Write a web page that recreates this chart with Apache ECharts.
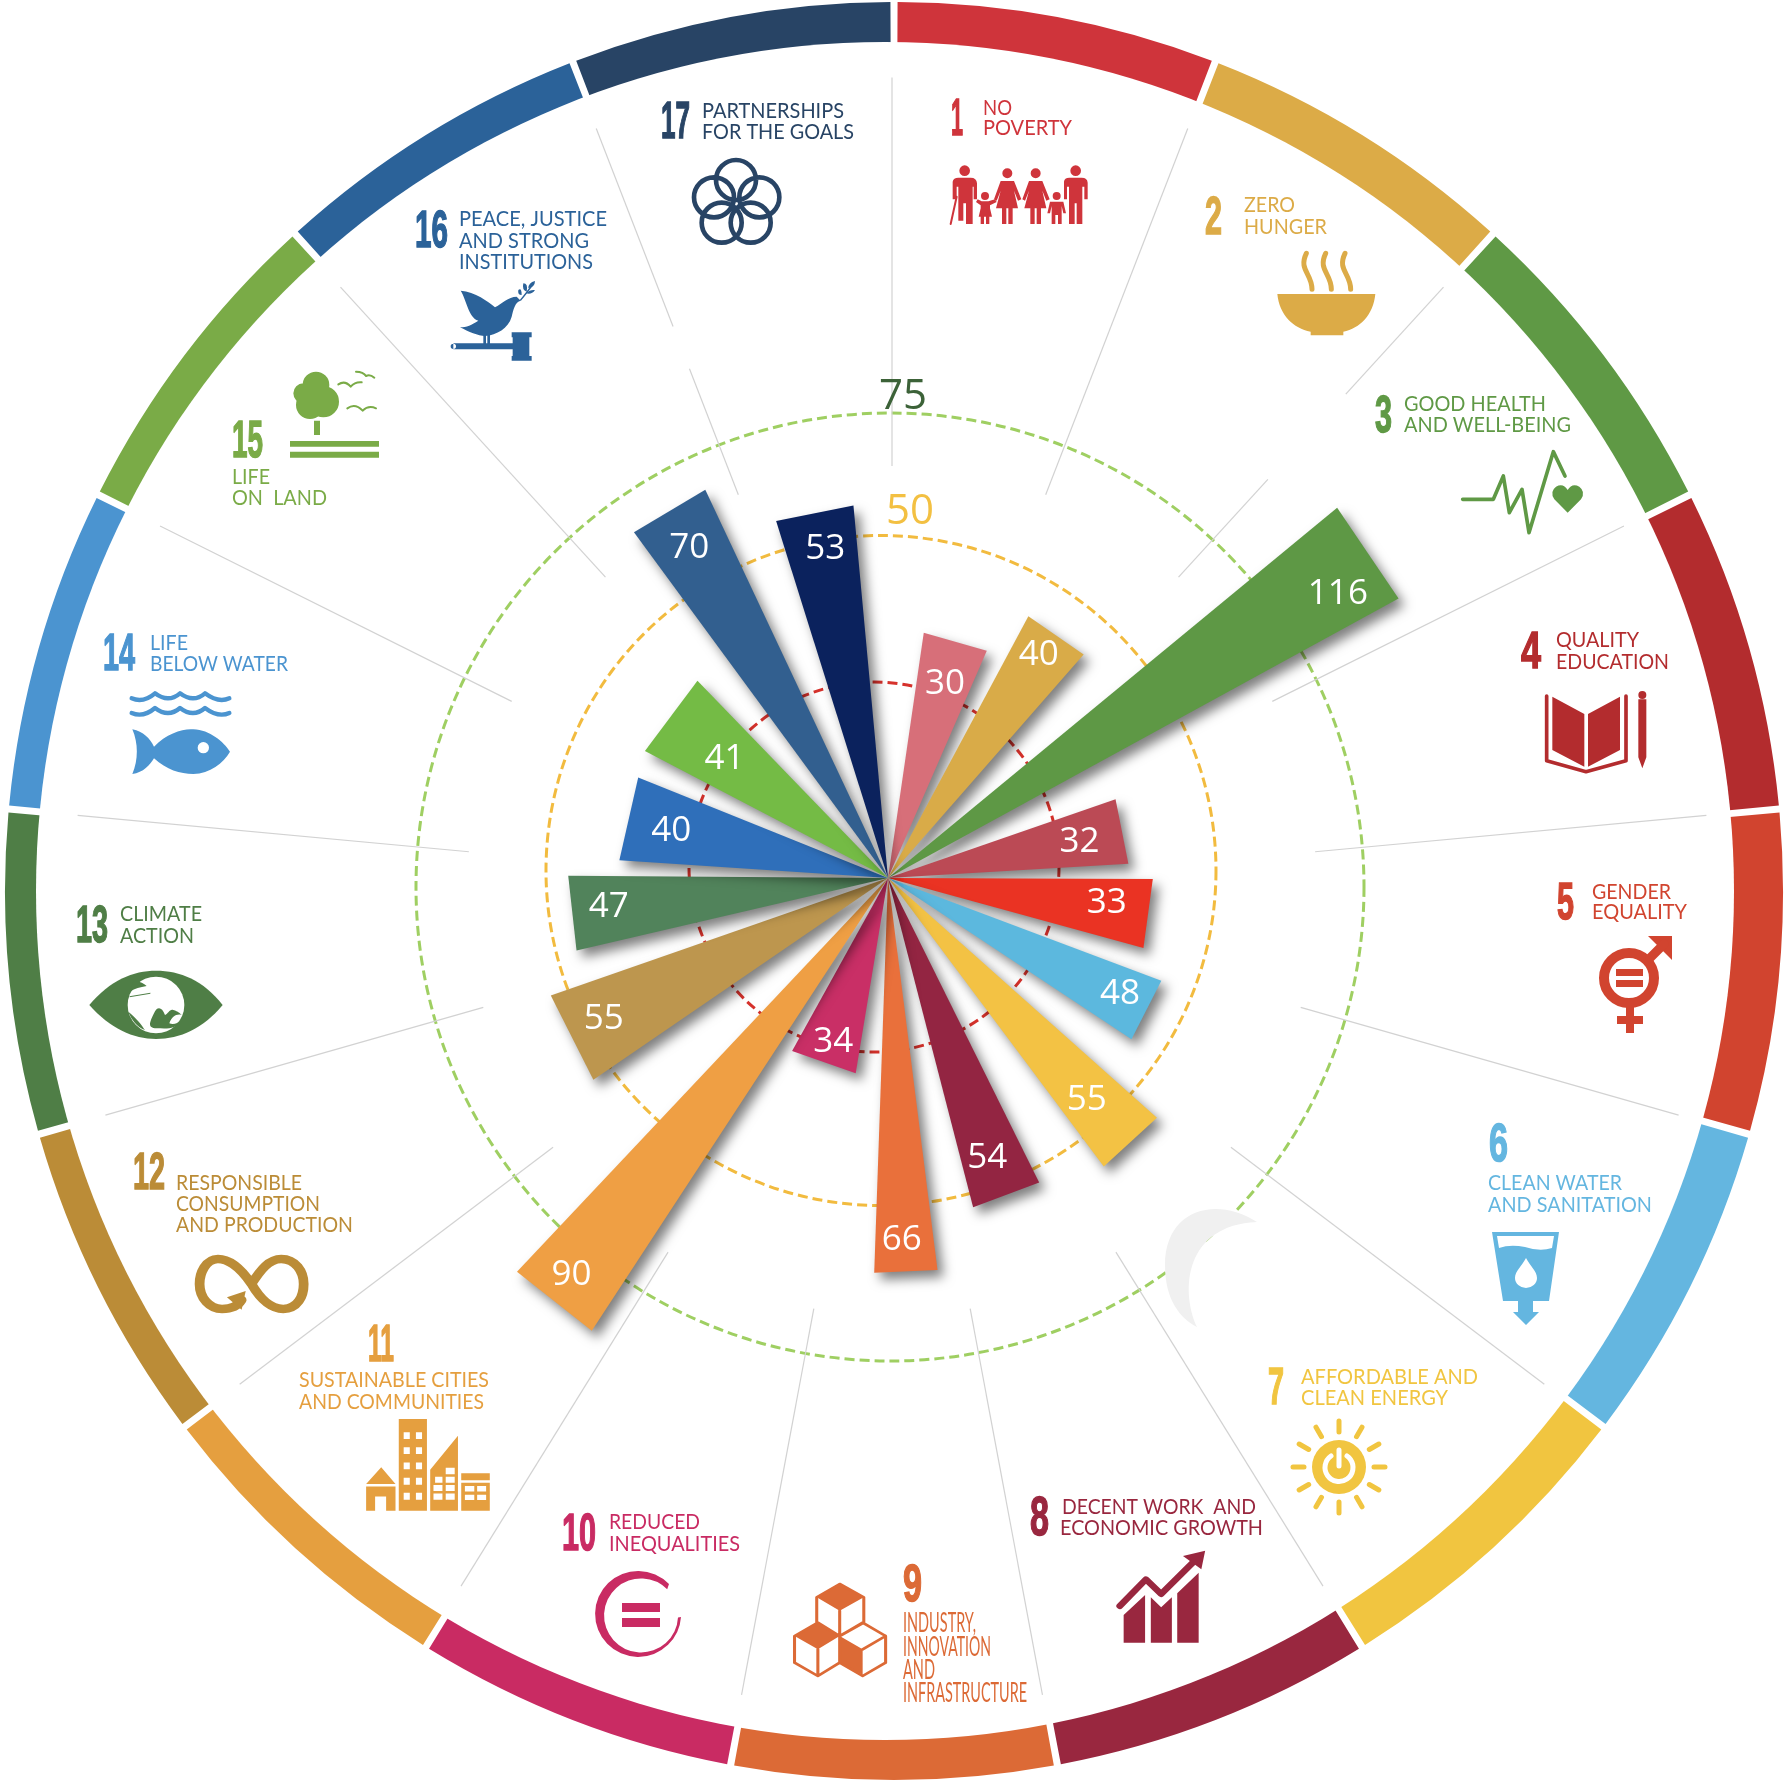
<!DOCTYPE html>
<html>
<head>
<meta charset="utf-8">
<title>SDG wheel</title>
<script src="https://cdn.jsdelivr.net/npm/echarts@6/dist/echarts.min.js"></script>
<style>
  html, body { margin: 0; padding: 0; background: #fff; }
  #chart { width: 1790px; height: 1787px; }
</style>
</head>
<body>
<div id="chart"></div>
<script>
// values printed on the wedges, goal 1 to 17
var printedValues = [30, 40, 116, 32, 33, 48, 55, 54, 66, 34, 90, 55, 47, 40, 41, 70, 53];
// how far each wedge really reaches in the picture (axis units, rings are not to scale)
var wedgeReach = [39.2, 47, 92.1, 38.1, 41.9, 46.2, 57, 53.8, 62.5, 31.3, 85.6, 56.5, 50.6, 42.6, 43.4, 67.9, 59.2];
// angular span of each wedge, degrees clockwise from the top
var wedgeFrom = [8.3, 28.2, 50.5, 70.9, 90.2, 110.6, 131.7, 153.6, 172.8, 189.4, 213.2, 235.6, 256.9, 273.8, 297.6, 323.7, 342.6];
var wedgeTo = [23.5, 41.2, 61.3, 86.6, 105.3, 123.5, 143.2, 165.5, 182, 209, 223.3, 250.8, 270.4, 291.9, 316, 334.8, 354.7];
// where the printed value sits on each wedge
var labelReach = [32.5, 43, 84.4, 30.9, 34.8, 40.8, 46.8, 46.6, 56.9, 26.9, 79.9, 50, 44.4, 35.2, 32.3, 61.4, 53.5];
var labelAngle = [16.1, 33.7, 57.5, 78.6, 95.7, 115.9, 137.8, 160.3, 177.8, 198.8, 218.8, 244.1, 264.6, 283, 306.8, 329.2, 349.3];
var ringValues = [25, 50, 75];
var ringLabels = ['50', '75'];
// spokes between the goals: angle and radial run in percent of the wheel
var spokeAngle = [0, 21.2, 42.4, 42.4, 63.5, 84.7, 105.9, 127.1, 148.2, 169.4, 190.6, 211.8, 232.9, 254.1, 275.3, 296.5, 317.6, 338.8, 338.8];
var spokeFrom = [47.8, 47.8, 47.8, 75.7, 47.8, 47.8, 47.8, 47.8, 47.8, 47.8, 47.8, 47.8, 47.8, 47.8, 47.8, 47.8, 47.8, 47.8, 68.1];
var spokeTo = [91.5, 92, 62.7, 92, 92, 92, 92, 92, 92, 92, 92, 92, 92, 92, 92, 92, 92, 63, 92];

var ringColors = ['#cf343b', '#dcab47', '#5f9945', '#b32c2e', '#d1442f', '#64b6e0', '#f1c540', '#99273f', '#dc6a36',
  '#c92b63', '#e59f3f', '#bb8c37', '#4f7e46', '#4b94d0', '#7aab47', '#2b6299', '#284465'];
var wedgeColors = ['#d76f79', '#d9ab48', '#5e9845', '#bb4a55', '#ea3323', '#5cb8de', '#f3c244', '#932542', '#e9703b',
  '#c92f66', '#ef9f44', '#bd964e', '#51835b', '#2f6fba', '#74bb45', '#325f8f', '#0b225d'];

// goal captions: number box [text, left, right, top, bottom], lines [text, left, right, middle]
var captions = [
  { num: ['1', 951, 963, 100, 136], cap: 16, lines: [['NO', 983, 1012, 108], ['POVERTY', 983, 1072, 128]] },
  { num: ['2', 1205, 1222, 197, 235], cap: 16, lines: [['ZERO', 1244, 1295, 205], ['HUNGER', 1244, 1327, 227]] },
  { num: ['3', 1375, 1392, 397, 433], cap: 16, lines: [['GOOD HEALTH', 1404, 1546, 404], ['AND WELL-BEING', 1404, 1571, 425]] },
  { num: ['4', 1521, 1541, 632, 669], cap: 16, lines: [['QUALITY', 1556, 1639, 640], ['EDUCATION', 1556, 1669, 662]] },
  { num: ['5', 1557, 1574, 883, 920], cap: 16, lines: [['GENDER', 1592, 1671, 892], ['EQUALITY', 1592, 1687, 912]] },
  { num: ['6', 1489, 1508, 1124, 1162], cap: 16, lines: [['CLEAN WATER', 1488, 1622, 1183], ['AND SANITATION', 1488, 1652, 1205]] },
  { num: ['7', 1268, 1284, 1369, 1405], cap: 16, lines: [['AFFORDABLE AND', 1301, 1478, 1377], ['CLEAN ENERGY', 1301, 1448, 1398]] },
  { num: ['8', 1030, 1049, 1497, 1536], cap: 16, lines: [['DECENT WORK  AND', 1062, 1256, 1507], ['ECONOMIC GROWTH', 1060, 1263, 1528]] },
  { num: ['9', 903, 922, 1565, 1602], cap: 19, lines: [['INDUSTRY,', 903, 976, 1624], ['INNOVATION', 903, 991, 1648], ['AND', 903, 935, 1671], ['INFRASTRUCTURE', 903, 1027, 1694]] },
  { num: ['10', 562, 596, 1514, 1551], cap: 16, lines: [['REDUCED', 609, 700, 1522], ['INEQUALITIES', 609, 740, 1544]] },
  { num: ['11', 368, 394, 1325, 1362], cap: 16, lines: [['SUSTAINABLE CITIES', 299, 489, 1380], ['AND COMMUNITIES', 299, 484, 1402]] },
  { num: ['12', 133, 165, 1154, 1190], cap: 16, lines: [['RESPONSIBLE', 176, 302, 1183], ['CONSUMPTION', 176, 320, 1204], ['AND PRODUCTION', 176, 353, 1225]] },
  { num: ['13', 76, 108, 906, 943], cap: 16, lines: [['CLIMATE', 120, 202, 914], ['ACTION', 120, 194, 936]] },
  { num: ['14', 103, 135, 634, 671], cap: 16, lines: [['LIFE', 150, 188, 643], ['BELOW WATER', 150, 288, 664]] },
  { num: ['15', 232, 263, 421, 458], cap: 16, lines: [['LIFE', 232, 270, 477], ['ON  LAND', 232, 327, 498]] },
  { num: ['16', 415, 448, 211, 248], cap: 16, lines: [['PEACE, JUSTICE', 459, 607, 219], ['AND STRONG', 459, 589, 241], ['INSTITUTIONS', 459, 593, 262]] },
  { num: ['17', 661, 690, 103, 139], cap: 16, lines: [['PARTNERSHIPS', 702, 844, 111], ['FOR THE GOALS', 702, 854, 132]] }
];

function circ(cx, cy, r) {
  return 'M' + (cx - r) + ' ' + cy + 'a' + r + ' ' + r + ' 0 1 0 ' + (2 * r) + ' 0a' + r + ' ' + r + ' 0 1 0 ' + (-2 * r) + ' 0Z';
}
function box(x0, y0, x1, y1) {
  return 'M' + x0 + ' ' + y0 + 'H' + x1 + 'V' + y1 + 'H' + x0 + 'Z';
}
function woman(dx) {
  return circ(382 + dx, 520, 15) + 'M' + (362 + dx) + ' 543h40l22 55-10 4-12-30 12 53h-16v47h-13v-47h-6v47h-13v-47h-18l14-53-12 30-8-4Z';
}
function sunRays() {
  var d = '';
  for (var k = 0; k < 12; k++) {
    var a = k * Math.PI / 6;
    d += 'M' + (1339 + 35 * Math.sin(a)) + ' ' + (1467 - 35 * Math.cos(a)) + 'L' + (1339 + 46 * Math.sin(a)) + ' ' + (1467 - 46 * Math.cos(a));
  }
  return d;
}
function towerWindows() {
  var d = '';
  [790, 832, 875, 918, 960].forEach(function (y) { d += box(695, y, 710, y + 19) + box(725, y, 740, y + 19); });
  [938, 962].forEach(function (y) { d += box(768, y, 790, y + 17) + box(798, y, 820, y + 17) + box(845, y + 3, 868, y + 18) + box(875, y + 3, 897, y + 18); });
  d += box(798, 890, 820, 908) + box(798, 915, 820, 932) + box(772, 915, 790, 932);
  return d;
}

// icons, roughly redrawn; o = origin, s = [sx, sy], parts: d path, w stroke width, white = knock out
var icons = [
  { o: [880, 0], s: [1 / 3, 1 / 3], parts: [
    { d: circ(254, 512, 16) + 'M218 545Q220 533 235 533H272Q290 533 291 550V598H281V560H278V672H258V610H250V662H235V560H230V598H218Z' },
    { d: 'M230 590L212 672', w: 6 },
    { d: circ(315, 588, 12) + 'M293 598L305 604H325L345 598L350 606L330 616V625L336 650H328V672H318V650H312V672H302V650H296L302 625V616L288 606Z' },
    { d: woman(0) + woman(85) },
    { d: circ(530, 588, 12) + 'M510 605H550L558 640H550L545 618V672H534V645H526V672H515V618L510 640H502Z' },
    { d: circ(587, 512, 16) + 'M552 545Q553 533 568 533H605Q622 533 623 548V598H613V560H607V672H590V610H584V672H567V560H561V598H552Z' }
  ] },
  { o: [880, 0], s: [1 / 3, 1 / 3], parts: [
    { d: 'M1192 882H1486C1480 945 1440 985 1390 995V1006H1292V995C1240 985 1198 945 1192 882Z' },
    { d: 'M1296 868C1296 820 1255 810 1279 760M1354 868C1354 820 1313 810 1337 760M1412 868C1412 820 1371 810 1395 760', w: 15 }
  ] },
  { o: [1350, 380], s: [1 / 3, 1 / 3], parts: [
    { d: 'M338 358H430L460 288L478 398L516 328L537 458L610 215L645 288', w: 11 },
    { d: 'M653 398L613 358Q598 335 618 320Q640 308 653 330Q666 308 688 320Q708 335 693 358Z' }
  ] },
  { o: [1350, 380], s: [1 / 3, 1 / 3], parts: [
    { d: 'M607 950L703 1002V1160L607 1110ZM714 1002L810 950V1110L714 1160Z' },
    { d: 'M590 948V1142L708 1175L828 1142V948', w: 11 },
    { d: 'M865 958V1132L877 1165L889 1132V958Z' + circ(877, 945, 12) }
  ] },
  { o: [0, 0], s: [1, 1], parts: [
    { d: circ(1629, 978, 25), w: 10 },
    { d: box(1616, 969, 1643, 976) + box(1616, 980, 1643, 987) + box(1626, 1006, 1634, 1033) + box(1617, 1016, 1643, 1024) + 'M1648 936H1672V960Z' },
    { d: 'M1650 958L1664 944', w: 9 }
  ] },
  { o: [0, 0], s: [1, 1], parts: [
    { d: 'M1492 1232H1559L1549 1301H1503ZM1518 1301H1533V1312H1539L1526 1325L1513 1312H1518Z' },
    { d: 'M1497 1236H1554L1552 1248Q1540 1252 1525 1247Q1510 1244 1499 1248ZM1526 1258C1530 1266 1537 1271 1537 1278A11 10 0 0 1 1515 1278C1515 1271 1522 1266 1526 1258Z', white: true }
  ] },
  { o: [0, 0], s: [1, 1], parts: [
    { d: circ(1339, 1467, 27) },
    { d: sunRays(), w: 5 },
    { d: 'M1331 1456A14 14 0 1 0 1347 1456M1339 1450V1466', w: 5, white: true }
  ] },
  { o: [700, 1480], s: [1 / 2.613, 1 / 3], parts: [
    { d: 'M1107 405L1163 345V488H1107ZM1178 352L1205 382L1233 352V488H1178ZM1247 340L1303 278V488H1247ZM1262 228L1320 212L1310 268Z' },
    { d: 'M1097 378L1165 298L1205 342L1290 245', w: 18 }
  ] },
  { o: [700, 1480], s: [1 / 2.613, 1 / 3], parts: [
    { d: 'M365 312L428 352L365 392L305 352ZM308 428L365 468L308 508L247 468ZM365 468L425 508V585L365 548Z' },
    { d: 'M365 312L428 352V428L365 468L305 428V352ZM365 392V465M308 428L365 468V548L308 588L247 548V468ZM308 508V588M425 428L485 468V548L425 588L365 548V468ZM425 508L485 468', w: 8 }
  ] },
  { o: [0, 0], s: [1, 1], parts: [
    { d: 'M669 1584A43 43 0 1 0 681 1617L678 1617.4A37 37 0 1 1 667.2 1589.3Z' + box(622, 1603, 660, 1612) + box(622, 1618, 660, 1627) }
  ] },
  { o: [120, 1150], s: [1 / 2.45, 1 / 2.8], parts: [
    { d: box(683, 753, 752, 1010) + 'M760 895L828 800V1010H760ZM603 935L640 888L675 935ZM603 942H675V1010H652V970H625V1010H603Z' + box(836, 905, 906, 925) + box(836, 932, 906, 1010) },
    { d: towerWindows(), white: true }
  ] },
  { o: [120, 1150], s: [1 / 2.45, 1 / 2.8], parts: [
    { d: 'M322 375C290 320 260 305 240 305C210 305 195 345 195 375C195 415 220 445 250 445C275 445 290 435 298 420M322 375C350 430 375 445 400 445C435 445 450 410 450 375C450 340 430 305 395 305C365 305 345 335 322 375', w: 24 },
    { d: 'M262 412L308 395L298 447Z' }
  ] },
  { o: [0, 780], s: [1 / 3, 1 / 3], parts: [
    { d: 'M268 675C330 600 400 572 468 572C540 572 610 600 668 675C610 745 540 777 468 777C400 777 330 745 268 675Z' },
    { d: circ(468, 675, 85), white: true },
    { d: 'M462 700C470 680 485 678 495 705C505 700 510 685 520 690C535 695 540 700 545 705C530 700 515 710 508 730C520 735 535 730 540 720C530 750 500 745 470 745C440 745 450 725 462 700ZM385 695C395 720 410 740 435 750C425 735 410 715 385 695ZM400 605C395 615 392 625 390 635C405 625 420 622 440 618C430 608 415 602 400 605Z' },
    { d: 'M390 650L450 640', w: 3 }
  ] },
  { o: [90, 350], s: [1 / 3, 1 / 3], parts: [
    { d: 'M125 1045Q160 1060 195 1030Q235 1060 270 1030Q310 1060 345 1030Q385 1060 418 1045M125 1089Q160 1104 195 1074Q235 1104 270 1074Q310 1104 345 1074Q385 1104 418 1089', w: 13 },
    { d: 'M127 1138C160 1145 180 1165 192 1190C230 1150 280 1135 310 1138C360 1140 400 1175 420 1205C400 1240 360 1270 310 1272C270 1272 230 1260 192 1225C180 1245 160 1268 127 1272C145 1230 145 1180 127 1138Z' },
    { d: circ(340, 1193, 17), white: true }
  ] },
  { o: [90, 350], s: [1 / 3, 1 / 3], parts: [
    { d: circ(678, 105, 40) + circ(640, 130, 30) + circ(700, 155, 47) + circ(660, 165, 42) + box(672, 212, 690, 255) + box(600, 273, 867, 290) + box(600, 305, 867, 323) },
    { d: 'M745 103Q765 90 782 110Q795 95 815 97M772 175Q795 158 818 182Q835 165 858 175M798 65Q820 65 828 78Q840 72 853 83', w: 6 }
  ] },
  { o: [400, 80], s: [1 / 3, 1 / 3], parts: [
    { d: 'M182 632C225 635 265 665 285 682C305 672 325 650 350 650L362 662C345 665 340 690 335 710C325 745 290 765 255 768C235 768 205 755 180 742C200 742 215 735 235 722C205 712 200 660 182 632Z' },
    { d: box(250, 765, 258, 795) + box(262, 765, 270, 795) + box(160, 790, 340, 808) + circ(160, 799, 8) + box(338, 760, 388, 838) + box(335, 757, 395, 772) + box(335, 828, 395, 842) },
    { d: 'M355 630Q365 622 365 645Q352 645 355 630ZM370 610Q385 610 380 635Q365 630 370 610ZM405 603Q405 620 385 625Q385 608 405 603ZM405 630Q395 645 378 640Q390 628 405 630Z' },
    { d: 'M362 660C375 645 385 630 400 612', w: 4 }
  ] },
  { o: [400, 80], s: [1 / 3, 1 / 3], parts: [
    { d: circ(1008, 300, 60) + circ(942, 352, 60) + circ(1078, 352, 60) + circ(965, 428, 60) + circ(1052, 428, 60), w: 14 }
  ] }
];

var textFont = 'Lato';
var numFont = '"Liberation Sans Narrow", "Liberation Sans"';
var measureCtx = document.createElement('canvas').getContext('2d');

// text stretched to the width it has in the picture
function fitText(str, left, right, middle, font, color, heavy) {
  measureCtx.font = font;
  var w = measureCtx.measureText(str).width;
  return {
    type: 'text', x: left, y: middle, scaleX: (right - left) / w,
    style: {
      text: str, font: font, fill: color, stroke: heavy ? color : null, lineWidth: heavy ? 1.5 : 0,
      textAlign: 'left', textVerticalAlign: 'middle'
    }
  };
}

var myChart = echarts.init(document.getElementById('chart'), null, { renderer: 'canvas' });

// dashed rings are off-centre in the picture, each gets its own polar
var polars = [
  { center: [888, 878], radius: 632 },
  { center: [874, 867], radius: 185 },
  { center: [881, 870.5], radius: 335 },
  { center: [890, 887], radius: 474 },
  { center: [892, 891], radius: 889 }
];
var ringLine = ['#d6322c', '#f2bb3f', '#9fcf62'];
var hiddenAngle = function (i) {
  return { polarIndex: i, type: 'value', min: 0, max: 360, startAngle: 90, show: false };
};
var hiddenRadius = function (i, max) {
  return { polarIndex: i, type: 'value', min: 0, max: max, show: false };
};

myChart.setOption({
  animation: false,
  backgroundColor: '#fff',
  polar: polars,
  angleAxis: polars.map(function (p, i) { return hiddenAngle(i); }),
  radiusAxis: [
    hiddenRadius(0, 100),
    ringAxis(1, 0), ringAxis(2, 1), ringAxis(3, 2),
    hiddenRadius(4, 100)
  ],
  series: [
    {
      // coloured outer ring, the white disc below eats the inside so it is slightly eccentric
      type: 'pie', silent: true, z: 0, center: [894, 891], radius: [800, 889],
      startAngle: 90, padAngle: 0.46, label: { show: false }, labelLine: { show: false },
      data: ringColors.map(function (c, i) {
        return { name: 'SDG ' + (i + 1), value: 1, itemStyle: { color: c } };
      })
    },
    {
      type: 'pie', silent: true, z: 0, center: [885, 891], radius: [0, 849],
      label: { show: false }, labelLine: { show: false },
      data: [{ value: 1, itemStyle: { color: '#fff' } }]
    },
    {
      // faint crescent left over in the source picture
      type: 'custom', coordinateSystem: 'none', z: 1, silent: true, data: [0],
      renderItem: function () {
        return {
          type: 'path',
          shape: { pathData: 'M1257 1222C1215 1195 1165 1210 1165 1265C1165 1300 1180 1318 1197 1327C1180 1290 1185 1225 1257 1222Z' },
          style: { fill: '#f0f0f0' }
        };
      }
    },
    {
      type: 'custom', coordinateSystem: 'polar', polarIndex: 4, z: 2, silent: true,
      data: spokeAngle.map(function (a, i) { return [spokeFrom[i], a, spokeTo[i]]; }),
      renderItem: function (params, api) {
        var a = api.coord([api.value(0), api.value(1)]);
        var b = api.coord([api.value(2), api.value(1)]);
        return {
          type: 'line',
          shape: { x1: a[0], y1: a[1], x2: b[0], y2: b[1] },
          style: { stroke: '#d2d2d2', lineWidth: 1.2 }
        };
      }
    },
    {
      // 50 and 75 ring captions
      type: 'custom', coordinateSystem: 'none', z: 2, silent: true,
      data: ringLabels.map(function (t, i) { return [i]; }),
      renderItem: function (params) {
        var i = params.dataIndex;
        return {
          type: 'text', x: [910, 903][i], y: [512, 397][i],
          style: {
            text: ringLabels[i], font: '42px "Open Sans"', fill: ['#f3c042', '#3c6238'][i],
            textAlign: 'center', textVerticalAlign: 'middle'
          }
        };
      }
    },
    {
      // wedges, all meet in the centre and end in a straight cut
      type: 'custom', coordinateSystem: 'polar', polarIndex: 0, z: 3, silent: true,
      data: wedgeReach.map(function (r, i) { return [r, wedgeFrom[i], wedgeTo[i], printedValues[i], labelReach[i], labelAngle[i]]; }),
      renderItem: function (params, api) {
        var i = params.dataIndex;
        var reach = api.value(0), from = api.value(1), to = api.value(2);
        var apex = api.coord([0, from]);
        var labelAt = api.coord([api.value(4), api.value(5)]);
        return {
          type: 'group',
          children: [
            {
              type: 'polygon',
              shape: { points: [apex, api.coord([reach, from]), api.coord([reach, to])] },
              style: {
                fill: wedgeColors[i], shadowColor: 'rgba(0,0,0,0.5)', shadowBlur: 12,
                shadowOffsetX: 6, shadowOffsetY: 7
              }
            },
            {
              type: 'text', x: labelAt[0], y: labelAt[1] + 3, z2: 5,
              style: {
                text: String(api.value(3)), font: '35px "Open Sans"', fill: '#fff',
                textAlign: 'center', textVerticalAlign: 'middle'
              }
            }
          ]
        };
      }
    },
    {
      // goal number, caption and pictogram
      type: 'custom', coordinateSystem: 'none', z: 3, silent: true,
      data: captions.map(function (c, i) { return [i]; }),
      renderItem: function (params) {
        var i = params.dataIndex;
        var c = captions[i], col = ringColors[i], n = c.num;
        var children = [];
        var numSize = Math.round((n[4] - n[3]) / 0.71);
        children.push(fitText(n[0], n[1], n[2], (n[3] + n[4]) / 2 + 3, 'bold ' + numSize + 'px ' + numFont, col, true));
        c.lines.forEach(function (l) {
          children.push(fitText(l[0], l[1], l[2], l[3], Math.round(c.cap / 0.72) + 'px ' + textFont, col));
        });
        var ic = icons[i];
        children.push({
          type: 'group', x: ic.o[0], y: ic.o[1], scaleX: ic.s[0], scaleY: ic.s[1],
          children: ic.parts.map(function (p) {
            var paint = p.white ? '#fff' : col;
            return {
              type: 'path', shape: { pathData: p.d },
              style: p.w
                ? { fill: 'none', stroke: paint, lineWidth: p.w, lineCap: 'round', lineJoin: 'round' }
                : { fill: paint }
            };
          })
        });
        return { type: 'group', children: children };
      }
    }
  ]
});

function ringAxis(polar, k) {
  return {
    polarIndex: polar, type: 'value', min: 0, max: ringValues[k], interval: ringValues[k], z: 1,
    axisLine: { show: false }, axisTick: { show: false }, axisLabel: { show: false },
    splitLine: { show: true, lineStyle: { color: ringLine[k], width: 3, type: [10, 5] } }
  };
}
</script>
</body>
</html>
